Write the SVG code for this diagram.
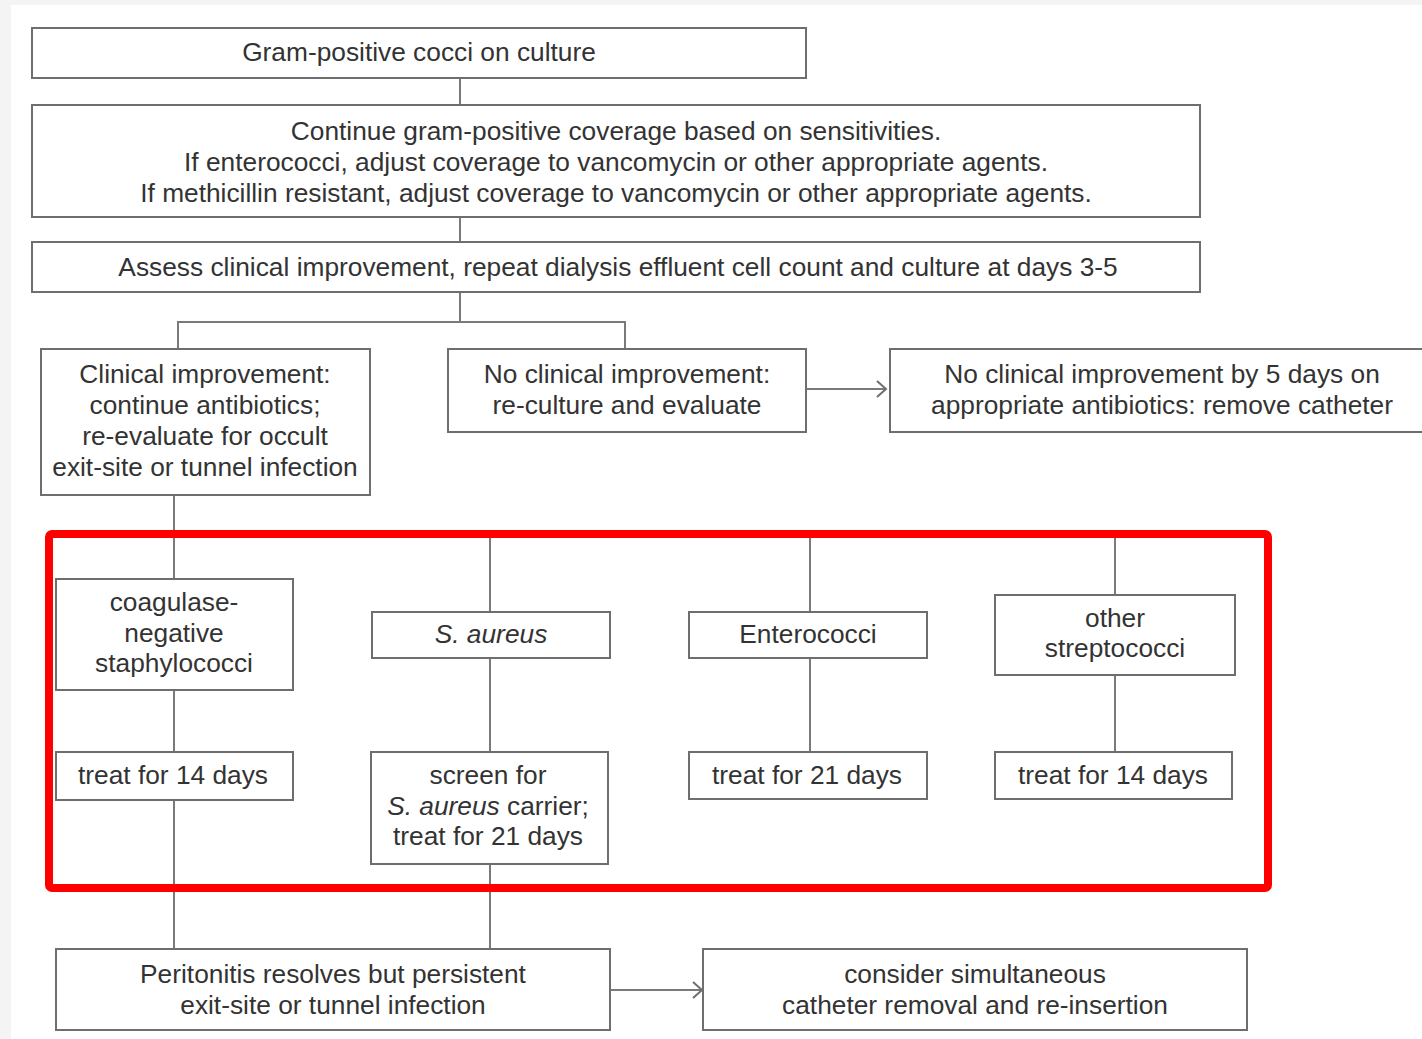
<svg xmlns="http://www.w3.org/2000/svg" width="1422" height="1039" viewBox="0 0 1422 1039">
<style>
.box{fill:#fff;stroke:#6e6e6e;stroke-width:2}
.ln{stroke:#7a7a7a;stroke-width:2;fill:none}
text{font-family:"Liberation Sans",Arial,sans-serif;font-size:26.3px;fill:#333;text-anchor:middle}
.it{font-style:italic}
</style>
<defs>
<marker id="arr" markerWidth="14" markerHeight="18" refX="11" refY="9" orient="auto" markerUnits="userSpaceOnUse">
<polyline points="2,1 11,9 2,17" fill="none" stroke="#6e6e6e" stroke-width="2"/>
</marker>
</defs>
<rect x="0" y="0" width="1422" height="1039" fill="#f4f4f4"/>
<rect x="11" y="5" width="1411" height="1034" fill="#fff"/>
<g id="connectors">
<line class="ln" x1="460" y1="78" x2="460" y2="105"/>
<line class="ln" x1="460" y1="217" x2="460" y2="242"/>
<polyline class="ln" points="460,292 460,322"/>
<polyline class="ln" points="178,349 178,322 625,322 625,349"/>
<line class="ln" x1="806" y1="389" x2="886" y2="389" marker-end="url(#arr)"/>
<line class="ln" x1="174" y1="495" x2="174" y2="579"/>
<line class="ln" x1="490" y1="536" x2="490" y2="612"/>
<line class="ln" x1="810" y1="536" x2="810" y2="612"/>
<line class="ln" x1="1115" y1="536" x2="1115" y2="595"/>
<line class="ln" x1="174" y1="690" x2="174" y2="752"/>
<line class="ln" x1="490" y1="658" x2="490" y2="752"/>
<line class="ln" x1="810" y1="658" x2="810" y2="752"/>
<line class="ln" x1="1115" y1="675" x2="1115" y2="752"/>
<line class="ln" x1="174" y1="800" x2="174" y2="949"/>
<line class="ln" x1="490" y1="864" x2="490" y2="949"/>
<line class="ln" x1="610" y1="990" x2="702" y2="990" marker-end="url(#arr)"/>
</g>
<g id="n1"><rect class="box" x="32" y="28" width="774" height="50"/><text x="419" y="61">Gram-positive cocci on culture</text></g>
<g id="n2"><rect class="box" x="32" y="105" width="1168" height="112"/>
<text x="616" y="140">Continue gram-positive coverage based on sensitivities.</text>
<text x="616" y="171">If enterococci, adjust coverage to vancomycin or other appropriate agents.</text>
<text x="616" y="202">If methicillin resistant, adjust coverage to vancomycin or other appropriate agents.</text></g>
<g id="n3"><rect class="box" x="32" y="242" width="1168" height="50"/><text x="618" y="276">Assess clinical improvement, repeat dialysis effluent cell count and culture at days 3-5</text></g>
<g id="n4"><rect class="box" x="41" y="349" width="329" height="146"/>
<text x="205" y="383">Clinical improvement:</text>
<text x="205" y="414">continue antibiotics;</text>
<text x="205" y="445">re-evaluate for occult</text>
<text x="205" y="476">exit-site or tunnel infection</text></g>
<g id="n5"><rect class="box" x="448" y="349" width="358" height="83"/>
<text x="627" y="383">No clinical improvement:</text>
<text x="627" y="414">re-culture and evaluate</text></g>
<g id="n6"><rect class="box" x="890" y="349" width="540" height="83"/>
<text x="1162" y="383">No clinical improvement by 5 days on</text>
<text x="1162" y="414">appropriate antibiotics: remove catheter</text></g>
<rect x="49" y="534" width="1219" height="354" rx="3" fill="none" stroke="#ff0000" stroke-width="8"/>
<g id="n7"><rect class="box" x="56" y="579" width="237" height="111"/>
<text x="174" y="611">coagulase-</text>
<text x="174" y="642">negative</text>
<text x="174" y="672">staphylococci</text></g>
<g id="n8"><rect class="box" x="372" y="612" width="238" height="46"/><text class="it" x="491" y="643">S. aureus</text></g>
<g id="n9"><rect class="box" x="689" y="612" width="238" height="46"/><text x="808" y="643">Enterococci</text></g>
<g id="n10"><rect class="box" x="995" y="595" width="240" height="80"/>
<text x="1115" y="627">other</text>
<text x="1115" y="657">streptococci</text></g>
<g id="n11"><rect class="box" x="56" y="752" width="237" height="48"/><text x="173" y="784">treat for 14 days</text></g>
<g id="n12"><rect class="box" x="371" y="752" width="237" height="112"/>
<text x="488" y="784">screen for</text>
<text x="488" y="815"><tspan class="it">S. aureus</tspan> carrier;</text>
<text x="488" y="845">treat for 21 days</text></g>
<g id="n13"><rect class="box" x="689" y="752" width="238" height="47"/><text x="807" y="784">treat for 21 days</text></g>
<g id="n14"><rect class="box" x="995" y="752" width="237" height="47"/><text x="1113" y="784">treat for 14 days</text></g>
<g id="n15"><rect class="box" x="56" y="949" width="554" height="81"/>
<text x="333" y="983">Peritonitis resolves but persistent</text>
<text x="333" y="1014">exit-site or tunnel infection</text></g>
<g id="n16"><rect class="box" x="703" y="949" width="544" height="81"/>
<text x="975" y="983">consider simultaneous</text>
<text x="975" y="1014">catheter removal and re-insertion</text></g>
</svg>
